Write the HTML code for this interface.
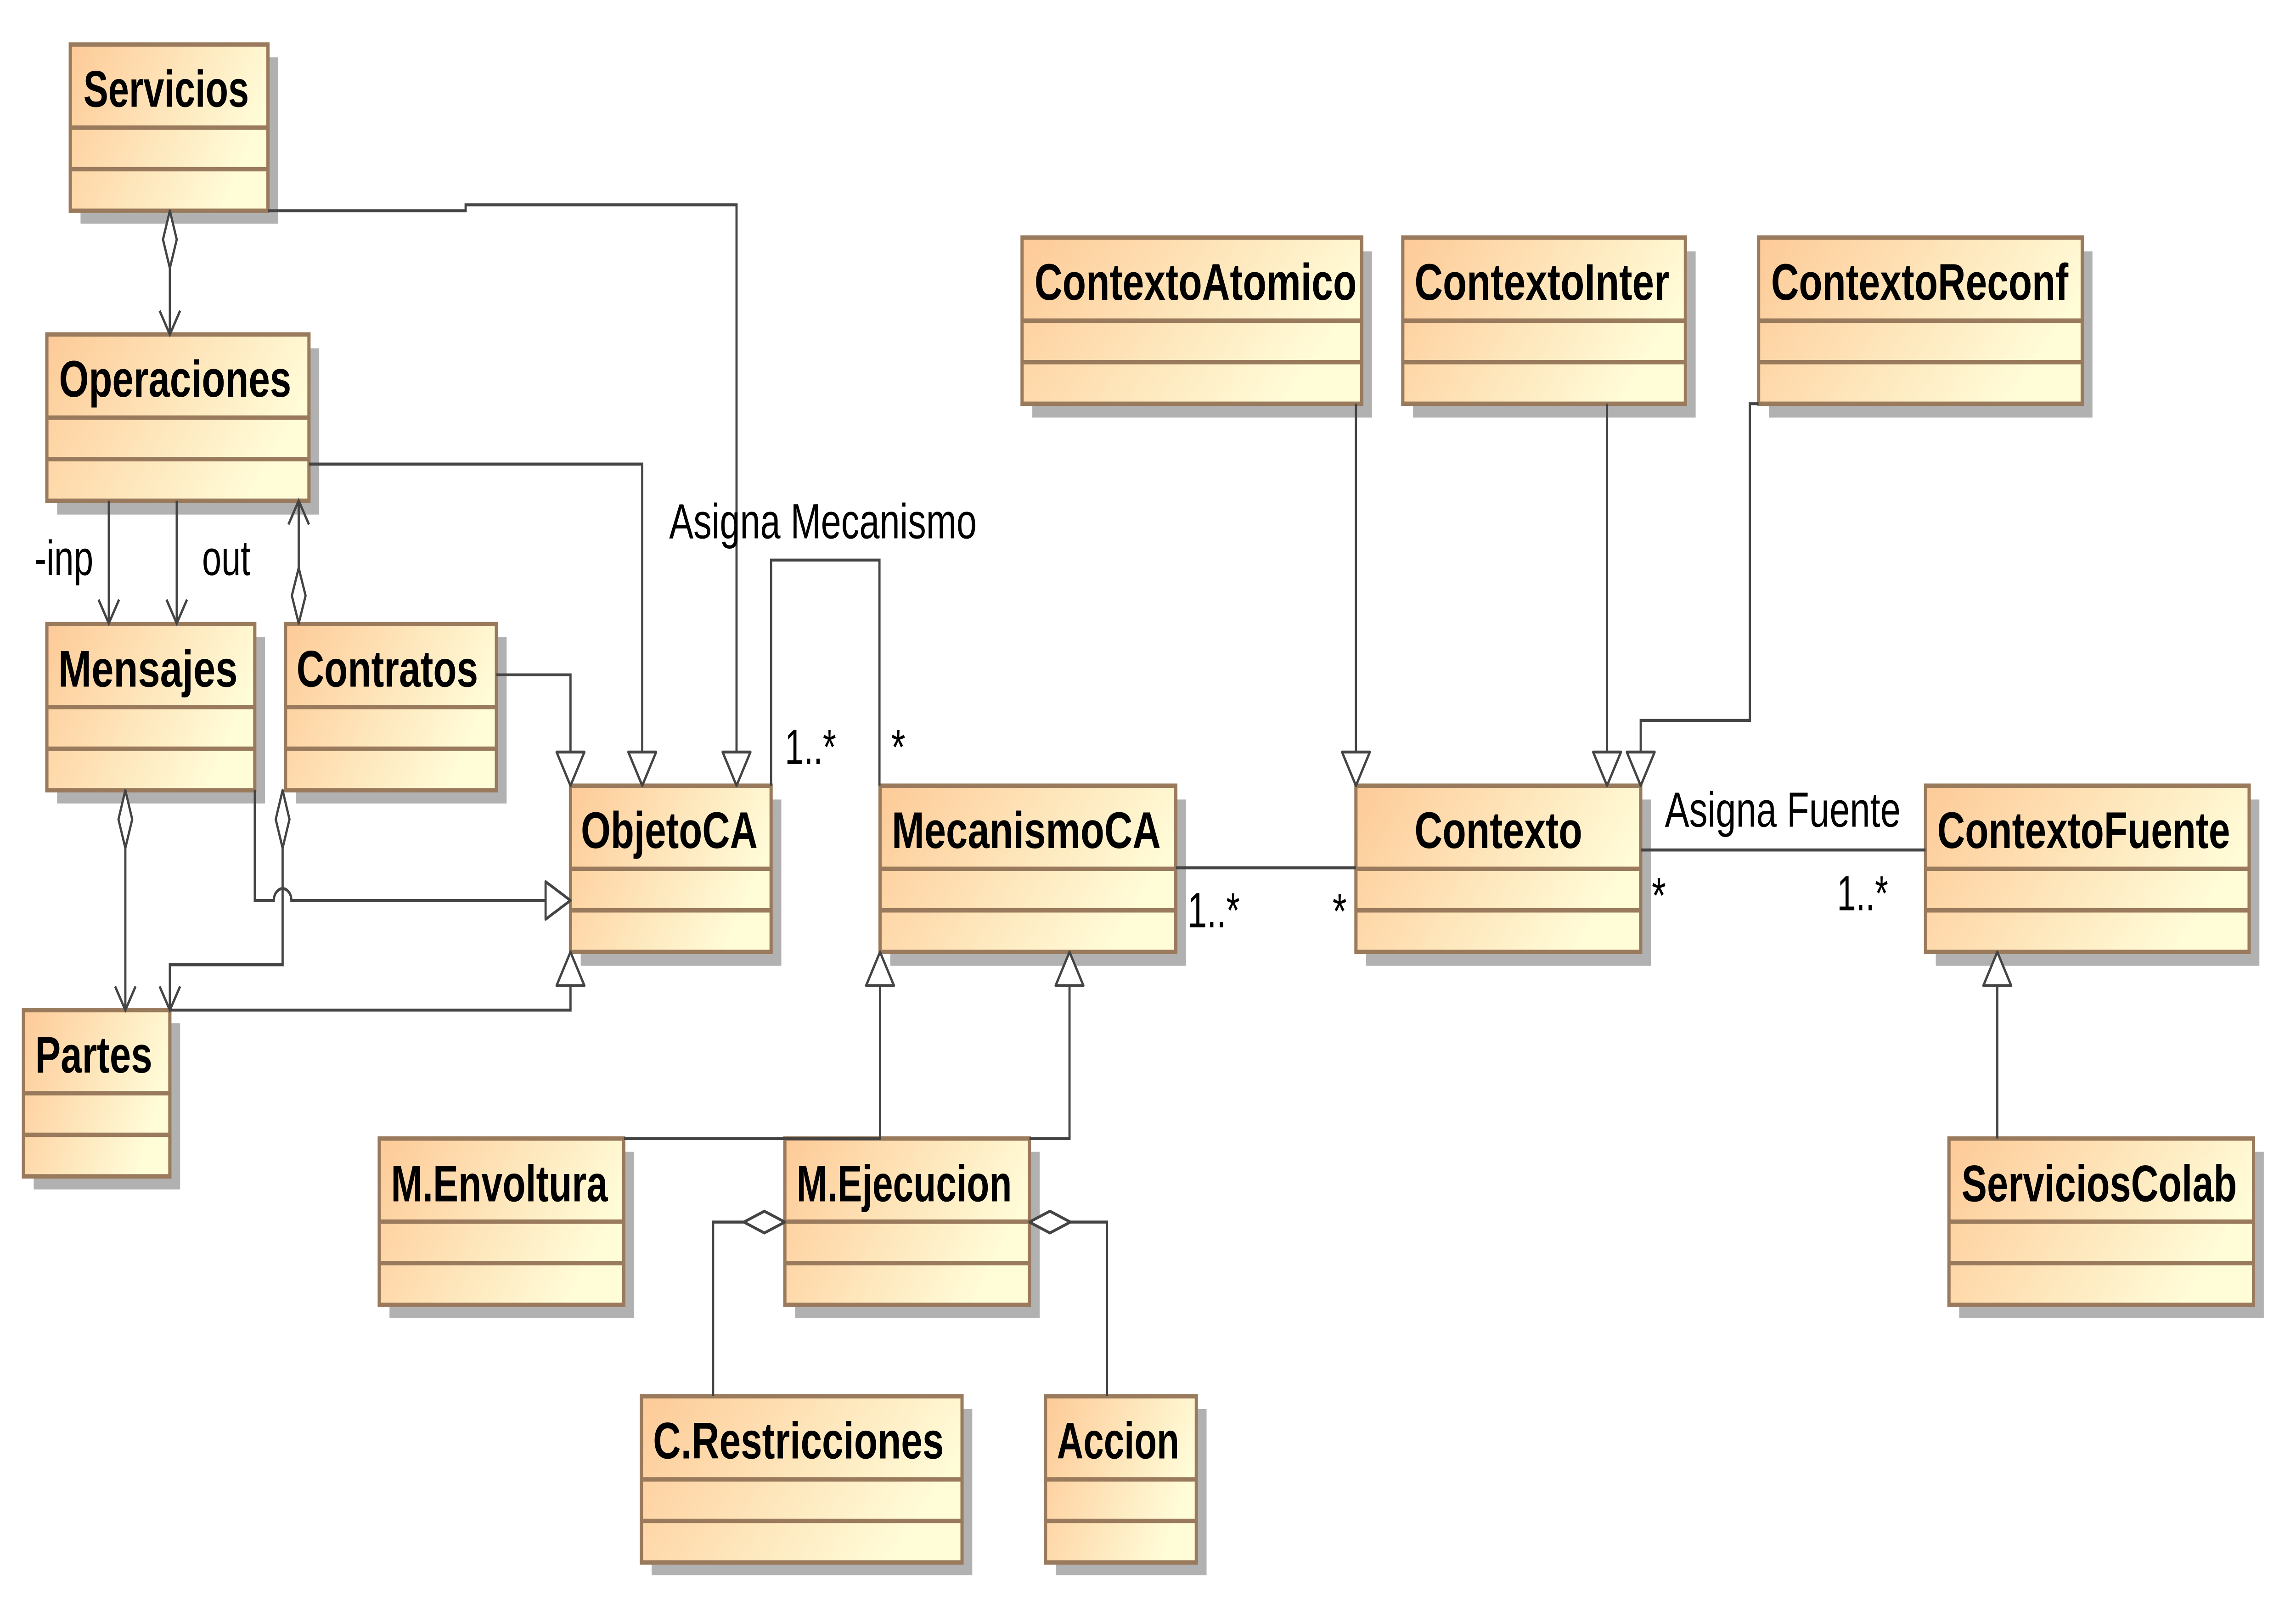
<!DOCTYPE html>
<html><head><meta charset="utf-8"><style>
html,body{margin:0;padding:0;background:#fff;width:100%;height:100%;overflow:hidden;}
svg{display:block;position:absolute;left:0;top:0;width:100vw;height:100vh;}
.t{font-family:"Liberation Sans",sans-serif;font-weight:bold;font-size:26px;fill:#000;}
.l{font-family:"Liberation Sans",sans-serif;font-size:25px;fill:#000;}
.e{fill:none;stroke:#444;stroke-width:1.5;}
.h{fill:#fff;stroke:#444;stroke-width:1.5;stroke-linejoin:round;}
.o{fill:none;stroke:#444;stroke-width:1.5;}
</style></head><body>
<svg viewBox="0 0 1568 812" preserveAspectRatio="none" xmlns="http://www.w3.org/2000/svg">
<defs>
<linearGradient id="g" x1="0" y1="0" x2="1" y2="0.35">
<stop offset="0" stop-color="#fdca97"/><stop offset="1" stop-color="#fffcd8"/>
</linearGradient>
</defs>
<rect width="1568" height="812" fill="#fff"/>

<rect x="55" y="29" width="135" height="84" fill="#b1b1b1"/><rect x="48" y="22.5" width="135" height="84" fill="url(#g)" stroke="#9a7a5c" stroke-width="2.2"/><line x1="48" y1="64.5" x2="183" y2="64.5" stroke="#9a7a5c" stroke-width="2.2"/><line x1="48" y1="85.5" x2="183" y2="85.5" stroke="#9a7a5c" stroke-width="2.2"/>
<text class="t" x="57" y="54" textLength="113" lengthAdjust="spacingAndGlyphs">Servicios</text>

<rect x="39" y="176" width="179" height="84" fill="#b1b1b1"/><rect x="32" y="169" width="179" height="84" fill="url(#g)" stroke="#9a7a5c" stroke-width="2.2"/><line x1="32" y1="211" x2="211" y2="211" stroke="#9a7a5c" stroke-width="2.2"/><line x1="32" y1="232" x2="211" y2="232" stroke="#9a7a5c" stroke-width="2.2"/>
<text class="t" x="40.3" y="200.5" textLength="158.6" lengthAdjust="spacingAndGlyphs">Operaciones</text>

<rect x="39" y="322" width="142" height="84" fill="#b1b1b1"/><rect x="32" y="315.3" width="142" height="84" fill="url(#g)" stroke="#9a7a5c" stroke-width="2.2"/><line x1="32" y1="357.3" x2="174" y2="357.3" stroke="#9a7a5c" stroke-width="2.2"/><line x1="32" y1="378.3" x2="174" y2="378.3" stroke="#9a7a5c" stroke-width="2.2"/>
<text class="t" x="39.8" y="347" textLength="122.5" lengthAdjust="spacingAndGlyphs">Mensajes</text>

<rect x="202" y="322" width="144" height="84" fill="#b1b1b1"/><rect x="195" y="315.3" width="144" height="84" fill="url(#g)" stroke="#9a7a5c" stroke-width="2.2"/><line x1="195" y1="357.3" x2="339" y2="357.3" stroke="#9a7a5c" stroke-width="2.2"/><line x1="195" y1="378.3" x2="339" y2="378.3" stroke="#9a7a5c" stroke-width="2.2"/>
<text class="t" x="202.5" y="347" textLength="124" lengthAdjust="spacingAndGlyphs">Contratos</text>

<rect x="23" y="517" width="100" height="84" fill="#b1b1b1"/><rect x="16" y="510.4" width="100" height="84" fill="url(#g)" stroke="#9a7a5c" stroke-width="2.2"/><line x1="16" y1="552.4" x2="116" y2="552.4" stroke="#9a7a5c" stroke-width="2.2"/><line x1="16" y1="573.4" x2="116" y2="573.4" stroke="#9a7a5c" stroke-width="2.2"/>
<text class="t" x="24" y="542" textLength="80" lengthAdjust="spacingAndGlyphs">Partes</text>

<rect x="396.6" y="404" width="137" height="84" fill="#b1b1b1"/><rect x="389.6" y="397" width="137" height="84" fill="url(#g)" stroke="#9a7a5c" stroke-width="2.2"/><line x1="389.6" y1="439" x2="526.6" y2="439" stroke="#9a7a5c" stroke-width="2.2"/><line x1="389.6" y1="460" x2="526.6" y2="460" stroke="#9a7a5c" stroke-width="2.2"/>
<text class="t" x="396.7" y="428.5" textLength="120.7" lengthAdjust="spacingAndGlyphs">ObjetoCA</text>

<rect x="608" y="404" width="202" height="84" fill="#b1b1b1"/><rect x="601" y="397" width="202" height="84" fill="url(#g)" stroke="#9a7a5c" stroke-width="2.2"/><line x1="601" y1="439" x2="803" y2="439" stroke="#9a7a5c" stroke-width="2.2"/><line x1="601" y1="460" x2="803" y2="460" stroke="#9a7a5c" stroke-width="2.2"/>
<text class="t" x="609" y="428.5" textLength="183.7" lengthAdjust="spacingAndGlyphs">MecanismoCA</text>

<rect x="933" y="404" width="194.5" height="84" fill="#b1b1b1"/><rect x="926" y="397" width="194.5" height="84" fill="url(#g)" stroke="#9a7a5c" stroke-width="2.2"/><line x1="926" y1="439" x2="1120.5" y2="439" stroke="#9a7a5c" stroke-width="2.2"/><line x1="926" y1="460" x2="1120.5" y2="460" stroke="#9a7a5c" stroke-width="2.2"/>
<text class="t" x="966" y="428.5" textLength="114.6" lengthAdjust="spacingAndGlyphs">Contexto</text>

<rect x="1322" y="404" width="221" height="84" fill="#b1b1b1"/><rect x="1315" y="397" width="221" height="84" fill="url(#g)" stroke="#9a7a5c" stroke-width="2.2"/><line x1="1315" y1="439" x2="1536" y2="439" stroke="#9a7a5c" stroke-width="2.2"/><line x1="1315" y1="460" x2="1536" y2="460" stroke="#9a7a5c" stroke-width="2.2"/>
<text class="t" x="1323" y="428.5" textLength="200" lengthAdjust="spacingAndGlyphs">ContextoFuente</text>

<rect x="705" y="127" width="232" height="84" fill="#b1b1b1"/><rect x="698" y="120" width="232" height="84" fill="url(#g)" stroke="#9a7a5c" stroke-width="2.2"/><line x1="698" y1="162" x2="930" y2="162" stroke="#9a7a5c" stroke-width="2.2"/><line x1="698" y1="183" x2="930" y2="183" stroke="#9a7a5c" stroke-width="2.2"/>
<text class="t" x="706.5" y="151.5" textLength="220" lengthAdjust="spacingAndGlyphs">ContextoAtomico</text>

<rect x="965" y="127" width="193" height="84" fill="#b1b1b1"/><rect x="958" y="120" width="193" height="84" fill="url(#g)" stroke="#9a7a5c" stroke-width="2.2"/><line x1="958" y1="162" x2="1151" y2="162" stroke="#9a7a5c" stroke-width="2.2"/><line x1="958" y1="183" x2="1151" y2="183" stroke="#9a7a5c" stroke-width="2.2"/>
<text class="t" x="966" y="151.5" textLength="174" lengthAdjust="spacingAndGlyphs">ContextoInter</text>

<rect x="1208" y="127" width="221" height="84" fill="#b1b1b1"/><rect x="1201" y="120" width="221" height="84" fill="url(#g)" stroke="#9a7a5c" stroke-width="2.2"/><line x1="1201" y1="162" x2="1422" y2="162" stroke="#9a7a5c" stroke-width="2.2"/><line x1="1201" y1="183" x2="1422" y2="183" stroke="#9a7a5c" stroke-width="2.2"/>
<text class="t" x="1209.5" y="151.5" textLength="203" lengthAdjust="spacingAndGlyphs">ContextoReconf</text>

<rect x="266" y="582" width="167" height="84" fill="#b1b1b1"/><rect x="259" y="575.3" width="167" height="84" fill="url(#g)" stroke="#9a7a5c" stroke-width="2.2"/><line x1="259" y1="617.3" x2="426" y2="617.3" stroke="#9a7a5c" stroke-width="2.2"/><line x1="259" y1="638.3" x2="426" y2="638.3" stroke="#9a7a5c" stroke-width="2.2"/>
<text class="t" x="267" y="607" textLength="148" lengthAdjust="spacingAndGlyphs">M.Envoltura</text>

<rect x="543" y="582" width="167" height="84" fill="#b1b1b1"/><rect x="536" y="575.3" width="167" height="84" fill="url(#g)" stroke="#9a7a5c" stroke-width="2.2"/><line x1="536" y1="617.3" x2="703" y2="617.3" stroke="#9a7a5c" stroke-width="2.2"/><line x1="536" y1="638.3" x2="703" y2="638.3" stroke="#9a7a5c" stroke-width="2.2"/>
<text class="t" x="544" y="607" textLength="147" lengthAdjust="spacingAndGlyphs">M.Ejecucion</text>

<rect x="1338" y="582" width="208" height="84" fill="#b1b1b1"/><rect x="1331" y="575.3" width="208" height="84" fill="url(#g)" stroke="#9a7a5c" stroke-width="2.2"/><line x1="1331" y1="617.3" x2="1539" y2="617.3" stroke="#9a7a5c" stroke-width="2.2"/><line x1="1331" y1="638.3" x2="1539" y2="638.3" stroke="#9a7a5c" stroke-width="2.2"/>
<text class="t" x="1339.6" y="607" textLength="188" lengthAdjust="spacingAndGlyphs">ServiciosColab</text>

<rect x="445" y="712" width="219" height="84" fill="#b1b1b1"/><rect x="438" y="705.5" width="219" height="84" fill="url(#g)" stroke="#9a7a5c" stroke-width="2.2"/><line x1="438" y1="747.5" x2="657" y2="747.5" stroke="#9a7a5c" stroke-width="2.2"/><line x1="438" y1="768.5" x2="657" y2="768.5" stroke="#9a7a5c" stroke-width="2.2"/>
<text class="t" x="446" y="737" textLength="198.6" lengthAdjust="spacingAndGlyphs">C.Restricciones</text>

<rect x="721" y="712" width="103" height="84" fill="#b1b1b1"/><rect x="714" y="705.5" width="103" height="84" fill="url(#g)" stroke="#9a7a5c" stroke-width="2.2"/><line x1="714" y1="747.5" x2="817" y2="747.5" stroke="#9a7a5c" stroke-width="2.2"/><line x1="714" y1="768.5" x2="817" y2="768.5" stroke="#9a7a5c" stroke-width="2.2"/>
<text class="t" x="721.8" y="737" textLength="83.5" lengthAdjust="spacingAndGlyphs">Accion</text>

<polygon class="h" points="116,106.5 120.7,121 116,135.5 111.3,121"/>
<line class="e" x1="116" y1="135.5" x2="116" y2="169"/>
<polyline class="o" points="109,157 116,169 123,157"/>
<polyline class="e" points="183,106.5 318,106.5 318,103.5 503,103.5 503,380"/>
<polygon class="h" points="493.5,380 512.5,380 503,397"/>
<polyline class="e" points="211,234.5 438.6,234.5 438.6,380"/>
<polygon class="h" points="429.1,380 448.1,380 438.6,397"/>
<line class="e" x1="74.3" y1="253" x2="74.3" y2="315"/>
<polyline class="o" points="67.3,303 74.3,315 81.3,303"/>
<line class="e" x1="120.7" y1="253" x2="120.7" y2="315"/>
<polyline class="o" points="113.7,303 120.7,315 127.7,303"/>
<polygon class="h" points="204,315 208.7,301 204,287 199.3,301"/>
<line class="e" x1="204" y1="287" x2="204" y2="253"/>
<polyline class="o" points="197,265 204,253 211,265"/>
<polyline class="e" points="339,341 389.6,341 389.6,380"/>
<polygon class="h" points="380.1,380 399.1,380 389.6,397"/>
<path class="e" d="M174,399 L174,455 L187,455 A6,6 0 0 1 199,455 L372.6,455"/>
<polygon class="h" points="372.6,445.5 372.6,464.5 389.6,455"/>
<polygon class="h" points="85.6,399.3 90.3,414 85.6,428.5 80.9,414"/>
<line class="e" x1="85.6" y1="428.5" x2="85.6" y2="510.4"/>
<polyline class="o" points="78.6,498.4 85.6,510.4 92.6,498.4"/>
<polygon class="h" points="193,399.3 197.7,414 193,428.5 188.3,414"/>
<polyline class="e" points="193,428.5 193,487.5 116,487.5 116,510.4"/>
<polyline class="o" points="109,498.4 116,510.4 123,498.4"/>
<polyline class="e" points="116,510.4 389.6,510.4 389.6,498"/>
<polygon class="h" points="380.1,498 399.1,498 389.6,481"/>
<polyline class="e" points="526.6,397 526.6,283 600.6,283 600.6,397"/>
<polyline class="e" points="601,498 601,575.3 426,575.3"/>
<polygon class="h" points="591.5,498 610.5,498 601,481"/>
<polyline class="e" points="730.4,498 730.4,575.3 703,575.3"/>
<polygon class="h" points="720.9,498 739.9,498 730.4,481"/>
<line class="e" x1="803" y1="438.5" x2="926" y2="438.5"/>
<line class="e" x1="926" y1="204" x2="926" y2="380"/>
<polygon class="h" points="916.5,380 935.5,380 926,397"/>
<line class="e" x1="1097.5" y1="204" x2="1097.5" y2="380"/>
<polygon class="h" points="1088,380 1107,380 1097.5,397"/>
<polyline class="e" points="1201,204 1195,204 1195,364 1120.5,364 1120.5,380"/>
<polygon class="h" points="1111,380 1130,380 1120.5,397"/>
<line class="e" x1="1120.5" y1="429.5" x2="1315" y2="429.5"/>
<line class="e" x1="1364" y1="575.3" x2="1364" y2="498"/>
<polygon class="h" points="1354.5,498 1373.5,498 1364,481"/>
<polygon class="h" points="536,617.5 522,623 508,617.5 522,612"/>
<polyline class="e" points="508,617.5 487,617.5 487,705.5"/>
<polygon class="h" points="703,617.5 717,612 731,617.5 717,623"/>
<polyline class="e" points="731,617.5 756,617.5 756,705.5"/>

<text class="l" x="23.7" y="290.6" textLength="40" lengthAdjust="spacingAndGlyphs">-inp</text>
<text class="l" x="138" y="290.6" textLength="33" lengthAdjust="spacingAndGlyphs">out</text>
<text class="l" x="457" y="272" textLength="210" lengthAdjust="spacingAndGlyphs">Asigna Mecanismo</text>
<text class="l" x="536" y="386" textLength="35" lengthAdjust="spacingAndGlyphs">1..*</text>
<text class="l" x="608.6" y="386">*</text>
<text class="l" x="811" y="468.5" textLength="35.7" lengthAdjust="spacingAndGlyphs">1..*</text>
<text class="l" x="910" y="469">*</text>
<text class="l" x="1137" y="417.7" textLength="161" lengthAdjust="spacingAndGlyphs">Asigna Fuente</text>
<text class="l" x="1128" y="461">*</text>
<text class="l" x="1254.5" y="460" textLength="35" lengthAdjust="spacingAndGlyphs">1..*</text>
</svg>
</body></html>
